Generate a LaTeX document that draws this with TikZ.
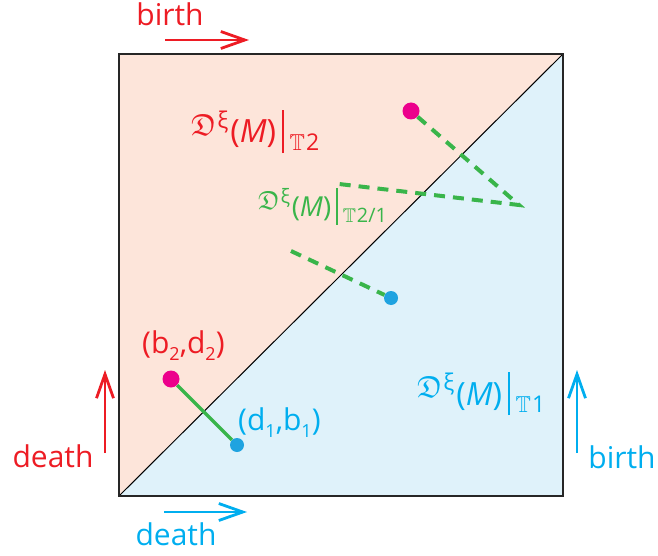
\documentclass[tikz,border=0pt]{standalone}
\usepackage{amsmath,amssymb}
\usepackage{fontspec}
\setmainfont{Open Sans}
\usetikzlibrary{arrows.meta}
\definecolor{cred}{HTML}{ED1C24}
\definecolor{ccyan}{HTML}{00AEEF}
\definecolor{cgreen}{HTML}{39B54A}
\definecolor{cmag}{HTML}{EC008C}
\definecolor{cblue}{HTML}{1FA3E0}
\definecolor{cpeach}{HTML}{FDE5DA}
\definecolor{clblue}{HTML}{DFF2FA}
\newcommand{\Dlab}[1]{\raisebox{0.22em}{\scalebox{0.95}{$\mathfrak{D}$}}\kern0.03em\raisebox{0.45em}{\scalebox{0.72}{ξ}}\kern0.06em(\textit{M})\kern0.18em\rule[-0.32em]{0.06em}{1.35em}\kern0.18em\raisebox{-0.24em}{\scalebox{0.72}{$\mathbb{T}$\kern0.05em#1}}}
\newcommand{\sbs}[1]{\raisebox{-0.45ex}{\scalebox{0.6}{#1}}}
\tikzset{
  lbl/.style={inner sep=0pt, anchor=base west},
  ctr/.style={inner sep=0pt, anchor=base},
  dot/.style={circle, inner sep=0pt, minimum size=#1},
  dir/.style={line width=2.8pt, -{Straight Barb[length=24pt,width=17pt,line width=2.8pt]}},
  gdash/.style={cgreen, line width=4pt, dash pattern=on 11pt off 8pt},
  big/.style={font=\fontsize{30}{30}\selectfont},
  dfont/.style={font=\fontsize{32}{32}\selectfont},
}
\begin{document}
\begin{tikzpicture}[x=1pt,y=-1pt]
\useasboundingbox (0,0) rectangle (658,556);
% regions
\fill[cpeach] (119,54) -- (563,54) -- (119,496) -- cycle;
\fill[clblue] (563,54) -- (563,496) -- (119,496) -- cycle;
\coordinate (sw) at (119,496);
\coordinate (ne) at (563,54);
\draw[black, line width=1pt] (sw) -- (ne);
\draw[black!85, line width=1.5pt] (119,54) rectangle (563,496);
% axis arrows
\coordinate (ta1) at (165,40); \coordinate (ta2) at (249,40);
\draw[dir, cred] (ta1) -- (ta2);
\coordinate (la1) at (105,453); \coordinate (la2) at (105,370);
\draw[dir, cred] (la1) -- (la2);
\coordinate (ra1) at (577,453); \coordinate (ra2) at (577,370);
\draw[dir, ccyan] (ra1) -- (ra2);
\coordinate (ba1) at (164,512); \coordinate (ba2) at (247,512);
\draw[dir, ccyan] (ba1) -- (ba2);
% axis texts
\node[ctr, big, text=cred] (tbirth) at (170,26) {birth};
\node[ctr, big, text=cred] (ldeath) at (53,467) {death};
\node[ctr, big, text=ccyan] (rbirth) at (622,468) {birth};
\node[ctr, big, text=ccyan] (bdeath) at (176,545) {death};
% region labels
\node[lbl, dfont, text=cred] (L2) at (191,143) {\Dlab{2}};
\node[lbl, dfont, text=cgreen, scale=0.86] (L21) at (258,216) {\Dlab{2/1}};
\node[lbl, dfont, text=ccyan] (L1) at (417,405) {\Dlab{1}};
% dashed lines
\node[dot=17pt, fill=cmag] (p3) at (411,111) {};
\node[dot=14pt, fill=cblue] (p4) at (391,298) {};
\coordinate (c1) at (519,205);
\coordinate (c2) at (339,184);
\coordinate (c3) at (291,251);
\draw[gdash] (p3) -- (c1) -- (c2);
\draw[gdash] (c3) -- (p4);
% points
\node[dot=17pt, fill=cmag] (p2) at (171,379) {};
\node[dot=14pt, fill=cblue] (p1) at (237,445) {};
\draw[cgreen, line width=3.5pt] (p2) -- (p1);
\node[lbl, big, text=cred] (t2) at (142,353) {(b\sbs{2},d\sbs{2})};
\node[lbl, big, text=ccyan] (t1) at (238,430) {(d\sbs{1},b\sbs{1})};
\end{tikzpicture}
\end{document}
